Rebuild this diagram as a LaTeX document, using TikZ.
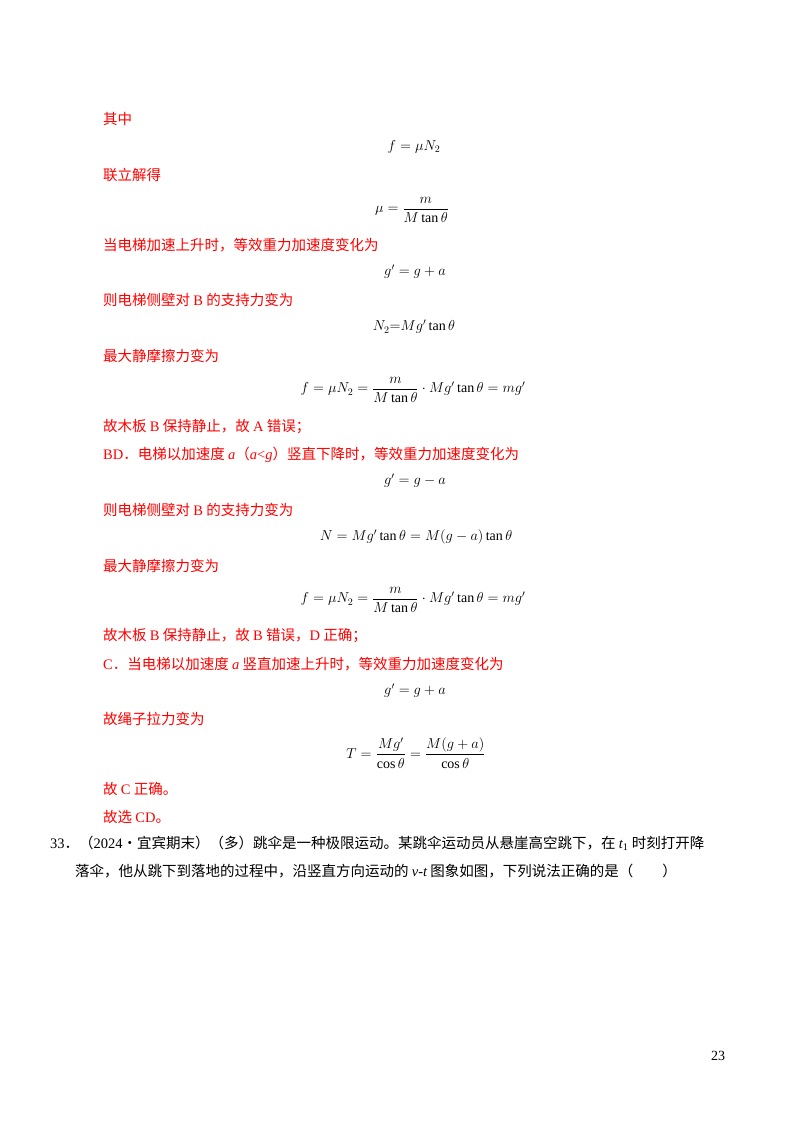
\documentclass[tikz,border=0pt]{standalone}
\usepackage{amsmath}
\usepackage{fontspec}
\setmainfont{Liberation Serif}
\newfontfamily\cjk{Noto Sans CJK SC}
\newcommand{\lt}[1]{{\rmfamily #1}}
\newcommand{\li}[1]{{\rmfamily\itshape #1}}
\definecolor{rd}{RGB}{255,0,0}
\begin{document}
\begin{tikzpicture}[x=1pt,y=-1pt,
 tl/.style={anchor=west,inner sep=0,text=rd,font=\cjk\fontsize{14.5}{16}\selectfont},
 bl/.style={anchor=west,inner sep=0,font=\cjk\fontsize{14.5}{16}\selectfont},
 fm/.style={inner sep=0,font=\fontsize{14}{16}\selectfont}]
\useasboundingbox (0,0) rectangle (800,1132);
\node[tl] (t1) at (103,119) {其中};
\node[fm] (f1) at (414,147) {$f=\mu N_2$};
\node[tl] (t2) at (103,175) {联立解得};
\node[fm] (f2) at (412,210) {$\mu=\dfrac{m}{M\tan\theta}$};
\node[tl] (t3) at (103,245) {当电梯加速上升时，等效重力加速度变化为};
\node[fm] (f3) at (415,272) {$g'=g+a$};
\node[tl] (t4) at (103,300) {则电梯侧壁对 \lt{B} 的支持力变为};
\node[fm] (f4) at (414,327) {$N_2{=}Mg'\tan\theta$};
\node[tl] (t5) at (103,356) {最大静摩擦力变为};
\node[fm] (f5) at (413,390) {$f=\mu N_2=\dfrac{m}{M\tan\theta}\cdot Mg'\tan\theta=mg'$};
\node[tl] (t6) at (103,427) {故木板 \lt{B} 保持静止，故 \lt{A} 错误；};
\node[tl] (t7) at (103,455) {\lt{BD}．电梯以加速度 \li{a}（\li{a}\lt{<}\li{g}）竖直下降时，等效重力加速度变化为};
\node[fm] (f6) at (415,481) {$g'=g-a$};
\node[tl] (t8) at (103,510) {则电梯侧壁对 \lt{B} 的支持力变为};
\node[fm] (f7) at (416,537) {$N=Mg'\tan\theta=M(g-a)\tan\theta$};
\node[tl] (t9) at (103,566) {最大静摩擦力变为};
\node[fm] (f8) at (413,600) {$f=\mu N_2=\dfrac{m}{M\tan\theta}\cdot Mg'\tan\theta=mg'$};
\node[tl] (t10) at (103,636) {故木板 \lt{B} 保持静止，故 \lt{B} 错误，\lt{D} 正确；};
\node[tl] (t11) at (103,664) {\lt{C}．当电梯以加速度 \li{a} 竖直加速上升时，等效重力加速度变化为};
\node[fm] (f9) at (415,691) {$g'=g+a$};
\node[tl] (t12) at (103,719) {故绳子拉力变为};
\node[fm] (f10) at (416,753) {$T=\dfrac{Mg'}{\cos\theta}=\dfrac{M(g+a)}{\cos\theta}$};
\node[tl] (t13) at (103,789) {故 \lt{C} 正确。};
\node[tl] (t14) at (103,817) {故选 \lt{CD}。};
\node[bl] (q1) at (50,843) {\lt{33}．（\lt{2024}·宜宾期末）（多）跳伞是一种极限运动。某跳伞运动员从悬崖高空跳下，在 \li{t}\textsubscript{\lt{1}} 时刻打开降};
\node[bl] (q2) at (75,871) {落伞，他从跳下到落地的过程中，沿竖直方向运动的 \li{v-t} 图象如图，下列说法正确的是（\hspace{2em}）};
\node[inner sep=0,font=\fontsize{14}{16}\selectfont] (pg) at (718,1056) {23};
\end{tikzpicture}
\end{document}
